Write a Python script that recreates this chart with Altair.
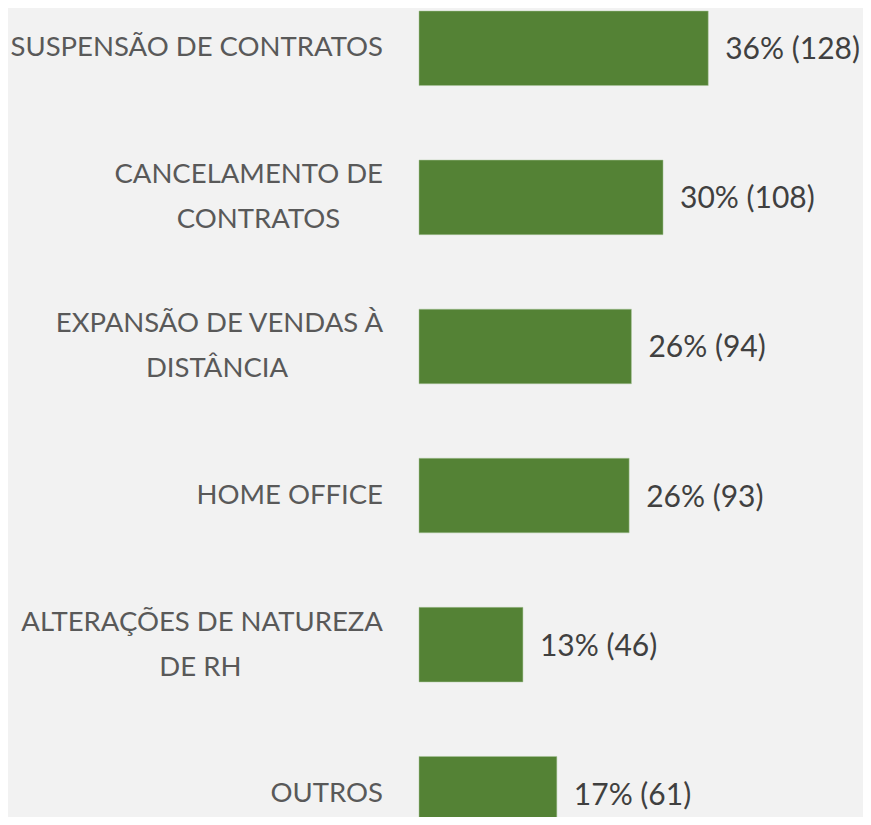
import altair as alt
import pandas as pd

labels = ["Suspensão de contratos", "Cancelamento de|contratos", "Expansão de vendas à|distância",
          "Home office", "Alterações de Natureza|de RH", "Outros"]
counts = [128, 108, 94, 93, 46, 61]
pcts = [36, 30, 26, 26, 13, 17]

df = pd.DataFrame({"label": labels, "count": counts, "pct": pcts})

W = 444
XMAX = 196.5
PX_PER_UNIT = W / XMAX
CHAR_W = 16.6

base = alt.Chart(df).transform_calculate(
    parts="split(datum.label, '|')",
).transform_calculate(
    line1="upper(datum.parts[0])",
    line2="length(datum.parts) > 1 ? upper(datum.parts[1]) : ''",
    nlines="length(datum.parts)",
    vlabel="datum.pct + '% (' + datum.count + ')'",
).transform_calculate(
    xc=f"-(36 + length(datum.line1) * {CHAR_W} / 2) / {PX_PER_UNIT}"
)

yenc = alt.Y("label:N", sort=labels, axis=None,
             scale=alt.Scale(paddingInner=0.5, paddingOuter=0, range=[0, 820]))
xscale = alt.Scale(domain=[0, XMAX])

bars = base.mark_bar(color="#548235", stroke="#a9c49a", strokeWidth=0.5).encode(
    x=alt.X("count:Q", scale=xscale, axis=None),
    y=yenc,
)

vals = base.mark_text(align="left", baseline="middle", dx=17, dy=2, font="Lato",
                      fontSize=30, color="#404040").encode(
    x=alt.X("count:Q", scale=xscale),
    y=yenc,
    text="vlabel:N",
)

LBL = dict(font="Lato", fontSize=27.5, color="#595959", baseline="middle")

single = base.transform_filter("datum.nlines == 1").mark_text(
    align="right", dx=-36, **LBL
).encode(x=alt.datum(0, scale=xscale), y=yenc, text="line1:N")

first = base.transform_filter("datum.nlines == 2").mark_text(
    align="right", dx=-36, dy=-22, **LBL
).encode(x=alt.datum(0, scale=xscale), y=yenc, text="line1:N")

second = base.transform_filter("datum.nlines == 2").mark_text(
    align="center", dy=23, **LBL
).encode(x=alt.X("xc:Q", scale=xscale), y=yenc, text="line2:N")

chart = alt.layer(bars, vals, single, first, second).properties(
    width=W, height=806,
    autosize=alt.AutoSizeParams(type="none"),
    padding={"left": 411, "top": 3, "right": 0, "bottom": 0},
    background="#f2f2f2",
).configure_view(stroke=None)

chart.save("out.html", embed_options={"renderer": "svg", "actions": False})
